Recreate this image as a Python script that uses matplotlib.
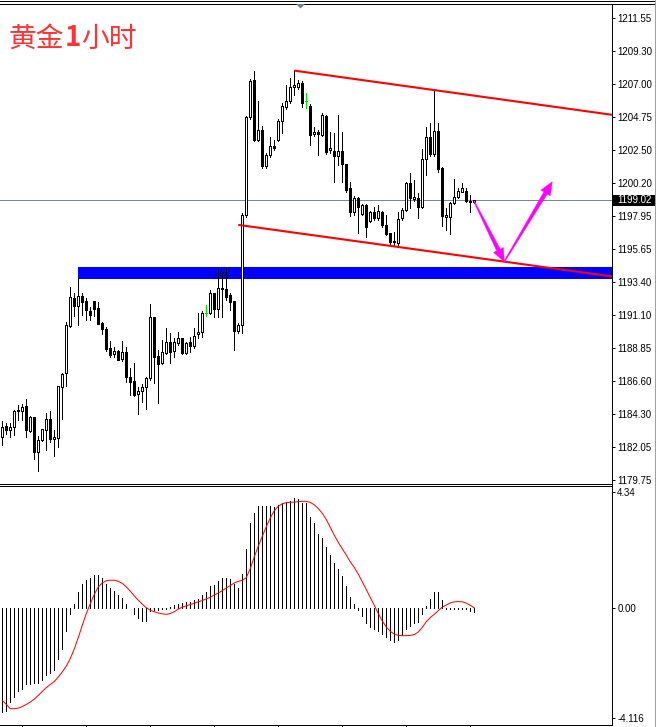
import numpy as np
import matplotlib
matplotlib.use("Agg")
import matplotlib.pyplot as plt
from matplotlib.patches import Rectangle, Polygon
from matplotlib.lines import Line2D
import matplotlib.transforms as mtransforms

# ---------------- data ----------------
opens = [1182.76, 1183.47, 1183.24, 1183.40, 1184.59, 1184.54, 1184.87, 1183.17, 1184.11, 1181.72,
         1182.50, 1183.24, 1183.95, 1182.57, 1182.69, 1186.15, 1187.11, 1190.39, 1192.30, 1191.77,
         1192.44, 1192.07, 1191.43, 1192.07, 1191.59, 1190.56, 1190.14, 1188.83, 1188.42, 1188.65,
         1188.10, 1188.58, 1186.84, 1186.56, 1185.67, 1185.88, 1186.15, 1186.77, 1190.97, 1188.31,
         1187.80, 1188.49, 1189.27, 1188.65, 1189.22, 1189.52, 1188.49, 1189.27, 1189.02, 1189.80,
         1189.94, 1191.30, 1191.24, 1192.62, 1191.54, 1192.96, 1192.90, 1192.50, 1192.09, 1190.05,
         1190.44, 1198.01, 1204.74, 1207.30, 1203.17, 1203.86, 1201.38, 1202.12, 1202.76, 1203.17,
         1204.50, 1205.46, 1205.86, 1206.82, 1206.80, 1207.12, 1205.86, 1205.52, 1203.59, 1203.75,
         1203.52, 1204.83, 1202.49, 1202.42, 1202.10, 1202.42, 1201.50, 1199.85, 1198.20, 1199.21,
         1198.08, 1198.70, 1197.60, 1198.24, 1197.79, 1198.24, 1197.33, 1196.75, 1196.22, 1196.06,
         1197.79, 1198.36, 1200.24, 1199.09, 1199.16, 1198.59, 1201.85, 1203.36, 1202.21, 1203.80,
         1201.22, 1197.90, 1197.90, 1198.82, 1199.23, 1199.62, 1199.69, 1199.00, 1198.88]
highs = [1183.83, 1183.70, 1183.70, 1184.59, 1184.93, 1185.00, 1185.35, 1184.18, 1184.11, 1182.80,
         1183.31, 1184.36, 1184.50, 1183.21, 1186.24, 1187.14, 1190.65, 1193.06, 1192.64, 1193.65,
         1192.62, 1192.28, 1191.66, 1192.12, 1192.00, 1190.67, 1190.28, 1189.36, 1188.95, 1188.72,
         1189.34, 1188.95, 1187.46, 1187.80, 1186.20, 1186.38, 1186.88, 1191.89, 1190.97, 1188.72,
         1189.41, 1190.21, 1189.87, 1189.52, 1189.94, 1189.57, 1189.29, 1189.64, 1190.21, 1191.24,
         1191.40, 1191.79, 1192.85, 1192.67, 1194.23, 1194.11, 1194.34, 1192.62, 1192.09, 1190.56,
         1198.15, 1204.80, 1207.40, 1207.92, 1205.86, 1204.14, 1202.28, 1203.40, 1203.17, 1204.60,
         1205.74, 1206.96, 1207.42, 1207.99, 1207.30, 1207.26, 1206.39, 1205.65, 1204.07, 1203.86,
         1205.01, 1204.90, 1203.75, 1203.63, 1204.90, 1203.75, 1201.55, 1200.31, 1199.30, 1199.25,
         1198.75, 1198.75, 1198.30, 1198.59, 1198.70, 1198.30, 1198.01, 1196.80, 1196.82, 1198.24,
         1198.52, 1200.31, 1200.88, 1200.42, 1199.50, 1202.53, 1204.09, 1204.32, 1206.55, 1204.32,
         1201.30, 1198.47, 1198.89, 1200.49, 1199.85, 1200.19, 1199.85, 1199.39, 1199.05]
lows = [1182.21, 1182.94, 1182.76, 1182.87, 1183.90, 1183.90, 1182.76, 1183.10, 1181.22, 1180.42,
        1182.43, 1181.84, 1182.41, 1181.43, 1182.07, 1183.97, 1186.27, 1190.28, 1191.08, 1190.44,
        1191.13, 1190.78, 1190.78, 1191.06, 1190.49, 1189.82, 1188.65, 1188.22, 1188.22, 1188.03,
        1187.99, 1186.52, 1185.60, 1185.58, 1184.34, 1185.16, 1184.66, 1186.68, 1186.43, 1185.05,
        1187.76, 1188.44, 1187.85, 1188.26, 1189.06, 1188.44, 1188.44, 1188.61, 1188.83, 1189.52,
        1189.64, 1191.08, 1191.17, 1191.01, 1191.01, 1191.01, 1192.16, 1191.47, 1188.72, 1189.87,
        1189.90, 1197.90, 1204.60, 1203.10, 1203.10, 1201.25, 1201.23, 1202.00, 1202.50, 1203.10,
        1203.63, 1205.29, 1205.74, 1206.27, 1206.70, 1205.47, 1205.36, 1202.83, 1203.45, 1202.14,
        1203.45, 1202.20, 1202.30, 1200.31, 1201.45, 1200.31, 1199.60, 1197.97, 1198.00, 1196.75,
        1198.00, 1196.48, 1197.55, 1197.70, 1197.70, 1197.21, 1196.64, 1196.02, 1195.90, 1195.95,
        1197.70, 1198.30, 1198.47, 1199.00, 1197.79, 1198.50, 1200.77, 1202.10, 1202.10, 1201.00,
        1197.28, 1196.98, 1196.68, 1198.80, 1199.20, 1199.60, 1198.90, 1198.24, 1198.85]
closes = [1183.40, 1183.24, 1183.40, 1184.50, 1184.50, 1184.77, 1183.24, 1184.11, 1181.72, 1182.50,
          1183.26, 1183.95, 1182.57, 1182.73, 1186.24, 1187.07, 1190.44, 1192.34, 1191.77, 1192.41,
          1192.05, 1191.47, 1191.15, 1191.56, 1190.51, 1190.14, 1188.81, 1188.40, 1188.65, 1188.03,
          1188.56, 1186.84, 1186.52, 1185.62, 1185.88, 1186.20, 1186.79, 1190.97, 1188.26, 1187.76,
          1188.56, 1189.27, 1188.61, 1189.27, 1189.52, 1188.49, 1189.18, 1188.99, 1189.71, 1189.94,
          1191.24, 1191.30, 1192.62, 1191.54, 1192.96, 1192.90, 1192.39, 1192.05, 1190.05, 1190.42,
          1198.01, 1204.74, 1207.24, 1203.17, 1203.86, 1201.38, 1202.14, 1202.76, 1202.64, 1204.50,
          1205.52, 1205.86, 1206.80, 1206.96, 1207.12, 1205.74, 1205.86, 1203.52, 1203.75, 1203.59,
          1204.90, 1202.37, 1202.65, 1202.10, 1202.42, 1201.50, 1199.73, 1198.20, 1199.21, 1198.59,
          1198.70, 1197.21, 1198.24, 1197.79, 1198.31, 1197.33, 1196.71, 1196.18, 1196.13, 1197.71,
          1198.36, 1200.24, 1199.16, 1199.23, 1198.59, 1201.85, 1203.36, 1202.21, 1203.80, 1201.16,
          1197.97, 1198.01, 1198.82, 1199.23, 1199.69, 1199.85, 1199.00, 1198.88, 1199.02]

macd_hist = [-3.91, -3.87, -3.53, -3.35, -3.12, -3.03, -2.87, -2.87, -2.82, -2.82,
             -2.69, -2.53, -2.44, -2.34, -1.93, -1.53, -0.86, -0.24, 0.16, 0.60,
             0.89, 1.04, 1.14, 1.23, 1.23, 1.14, 0.89, 0.76, 0.63, 0.48,
             0.39, 0.16, 0.0, -0.24, -0.38, -0.49, -0.49, -0.13, -0.09, -0.09,
             -0.05, -0.03, 0.04, 0.10, 0.16, 0.19, 0.21, 0.23, 0.29, 0.33,
             0.48, 0.58, 0.81, 0.85, 1.01, 1.13, 1.14, 1.08, 0.89, 0.76,
             1.29, 2.23, 3.20, 3.55, 3.82, 3.82, 3.82, 3.82, 3.80, 3.86,
             3.95, 3.97, 4.01, 4.11, 4.10, 3.92, 3.92, 3.40, 3.20, 2.77,
             2.64, 2.29, 1.98, 1.69, 1.45, 1.19, 0.81, 0.41, 0.14, -0.08,
             -0.29, -0.56, -0.71, -0.78, -0.86, -0.96, -1.09, -1.19, -1.27, -1.19,
             -1.03, -0.79, -0.68, -0.56, -0.53, -0.24, 0.09, 0.33, 0.59, 0.59,
             0.29, -0.03, -0.04, -0.04, -0.04, -0.05, -0.05, -0.11, -0.15]
macd_signal = [-3.47, -3.62, -3.78, -3.78, -3.76, -3.70, -3.62, -3.53, -3.42, -3.28,
               -3.13, -2.99, -2.87, -2.76, -2.59, -2.40, -2.18, -1.90, -1.53, -1.11,
               -0.65, -0.21, 0.16, 0.51, 0.79, 0.94, 1.02, 1.04, 1.04, 1.00,
               0.92, 0.79, 0.63, 0.45, 0.29, 0.14, 0.01, -0.09, -0.14, -0.19,
               -0.22, -0.24, -0.21, -0.14, -0.04, 0.03, 0.08, 0.13, 0.18, 0.23,
               0.28, 0.34, 0.40, 0.49, 0.56, 0.65, 0.75, 0.84, 0.94, 1.00,
               1.04, 1.14, 1.48, 1.92, 2.32, 2.69, 3.05, 3.38, 3.65, 3.82,
               3.91, 3.95, 3.97, 3.97, 3.99, 4.00, 4.00, 3.96, 3.87, 3.73,
               3.55, 3.32, 3.02, 2.73, 2.46, 2.22, 1.98, 1.73, 1.52, 1.27,
               0.98, 0.69, 0.39, 0.10, -0.21, -0.49, -0.71, -0.88, -0.98, -1.03,
               -1.04, -1.04, -1.03, -1.00, -0.90, -0.73, -0.51, -0.36, -0.24, -0.10,
               0.03, 0.11, 0.19, 0.23, 0.24, 0.23, 0.18, 0.10, 0.00]

price_ticks = [1211.55, 1209.30, 1207.00, 1204.75, 1202.50, 1200.20, 1197.95, 1195.65,
               1193.40, 1191.10, 1188.85, 1186.60, 1184.30, 1182.05, 1179.75]
macd_ticks = [4.34, 0.00, -4.116]
macd_tick_labels = ["4.34", "0.00", "-4.116"]
time_ticks = [5, 21, 37, 53, 69, 85, 101, 117]
last_price = 1199.02
zone_low, zone_high, zone_start = 1193.63, 1194.41, 19
upper_trend_x, upper_trend_y = [73, 152.4], [1207.95, 1204.91]
lower_trend_x, lower_trend_y = [59, 152.4], [1197.33, 1193.78]
forecast_x = [118, 125.5, 137.5]
forecast_y = [1198.93, 1194.80, 1200.30]
title_parts = ["黄金", "1", "小时"]

# ---------------- figure ----------------
W, H, DPI = 657, 727, 100
PX = 72.0 / DPI  # one pixel in points
plt.rcParams["font.family"] = ["Liberation Sans", "DejaVu Sans"]
fig = plt.figure(figsize=(W / DPI, H / DPI), dpi=DPI)
fig.patch.set_facecolor("white")

def fy(py):
    return 1 - py / H

def fx(px):
    return px / W

AX_R = 612.0
ax = fig.add_axes([0, fy(483.5), AX_R / W, (483.5 - 3.5) / H])
axm = fig.add_axes([0, fy(724.5), AX_R / W, (724.5 - 486.0) / H])

n = len(opens)
idx = np.arange(n)
o = np.array(opens); h = np.array(highs); l = np.array(lows); c = np.array(closes)
XL = (-0.575, 152.43)

for a in (ax, axm):
    a.set_xlim(*XL)
    a.set_facecolor("white")
    a.spines["left"].set_visible(False)
    for s in ("top", "right", "bottom"):
        a.spines[s].set_linewidth(PX)
        a.spines[s].set_color("black")
    a.yaxis.tick_right()
    a.tick_params(axis="y", direction="out", length=2.2, width=PX, pad=1.5,
                  labelsize=7, colors="black")

ax.set_ylim(1179.53, 1212.57)

# support zone
ax.add_patch(Rectangle((zone_start, zone_low), XL[1] - zone_start, zone_high - zone_low,
                       facecolor="#0000ff", edgecolor="none", zorder=1))
# current price line
ax.axhline(last_price, color="#778899", lw=PX, zorder=1.5)

# candles
up = c > o
dn = c < o
dj = c == o
ax.vlines(idx[~dj], l[~dj], h[~dj], color="black", lw=PX, zorder=3, antialiased=False)
ax.bar(idx[up], (c - o)[up], bottom=o[up], width=0.5, facecolor="white",
       edgecolor="black", linewidth=PX, zorder=4, antialiased=False)
ax.bar(idx[dn], (o - c)[dn], bottom=c[dn], width=0.5, facecolor="black",
       edgecolor="black", linewidth=PX, zorder=4, antialiased=False)
ax.vlines(idx[dj], l[dj], h[dj], color="#00dd00", lw=PX, zorder=4, antialiased=False)
ax.hlines(o[dj], idx[dj] - 0.3, idx[dj] + 0.3, color="#00dd00", lw=PX, zorder=4,
          antialiased=False)

# trend channel
def extend(xs, ys, x_end):
    k = (ys[1] - ys[0]) / (xs[1] - xs[0])
    return [xs[0], x_end], [ys[0], ys[0] + k * (x_end - xs[0])]

ux, uy = extend(upper_trend_x, upper_trend_y, XL[1])
lx, ly = extend(lower_trend_x, lower_trend_y, XL[1])
ax.plot(ux, uy, color="#ff0000", lw=1.5, zorder=5, solid_capstyle="butt")
ax.plot(lx, ly, color="#ff0000", lw=1.5, zorder=5, solid_capstyle="butt")

# tapered forecast arrows
def tapered_arrow(a, p0, p1, color, w0=0.5, w1=2.0, head_len=13.0, head_hw=5.5):
    T = a.transData
    A = T.transform(p0); B = T.transform(p1)
    d = B - A
    L = np.hypot(*d)
    u = d / L
    nv = np.array([-u[1], u[0]])
    base = B - u * head_len
    pts = [A + nv * w0, base + nv * w1, base + nv * head_hw, B,
           base - nv * head_hw, base - nv * w1, A - nv * w0]
    pd = T.inverted().transform(np.array(pts))
    a.add_patch(Polygon(pd, closed=True, facecolor=color, edgecolor=color, lw=0.3, zorder=7))

for k in range(len(forecast_x) - 1):
    tapered_arrow(ax, (forecast_x[k], forecast_y[k]), (forecast_x[k + 1], forecast_y[k + 1]),
                  "#ff00ff")

ax.set_xticks([])
ax.set_yticks(price_ticks)
ax.set_yticklabels(["%.2f" % v for v in price_ticks])

# last price box
bt = mtransforms.blended_transform_factory(ax.transAxes, ax.transData)
box_h = 11.0 / 14.53
ax.add_patch(Rectangle((1.0 + 1.0 / AX_R, last_price - box_h / 2), 41.5 / AX_R, box_h,
                       transform=bt, facecolor="black", edgecolor="none", clip_on=False,
                       zorder=10))
ax.text(1.0 + 5.5 / AX_R, last_price, "%.2f" % last_price, transform=bt, color="white",
        fontsize=7, va="center", ha="left", zorder=11, clip_on=False)

# title
red = "#ff3333"
cjk = ["Noto Sans CJK SC", "DejaVu Sans"]
t1 = fig.text(fx(9), fy(38.5), title_parts[0], fontsize=20, color=red, family=cjk, va="center")
t2 = ax.annotate(title_parts[1], xy=(1, 0.5), xycoords=t1, va="center", ha="left",
                 fontsize=20, color=red, family=cjk, fontweight="bold", annotation_clip=False)
t3 = ax.annotate(title_parts[2], xy=(1, 0.5), xycoords=t2, va="center", ha="left",
                 fontsize=20, color=red, family=cjk, annotation_clip=False)

# MACD pane
axm.set_ylim(-4.373, 4.576)
axm.vlines(idx, 0, macd_hist, color="black", lw=PX, zorder=2, antialiased=False)
axm.plot(idx, macd_signal, color="#ff0000", lw=PX, zorder=3)
axm.set_yticks(macd_ticks)
axm.set_yticklabels(macd_tick_labels)
axm.set_xticks(time_ticks)
axm.set_xticklabels([])
axm.tick_params(axis="x", direction="out", length=2.5, width=PX, colors="black")

# window decorations
fig.add_artist(Line2D([0, fx(654)], [fy(0.5), fy(0.5)], color="black", lw=PX))
fig.add_artist(Line2D([fx(AX_R), fx(654)], [fy(3.5), fy(3.5)], color="black", lw=PX))
fig.add_artist(Line2D([fx(654.5), fx(654.5)], [0, 1], color="#a0a0a0", lw=PX))
fig.add_artist(Line2D([fx(AX_R), fx(AX_R)], [fy(483.5), fy(486)], color="black", lw=PX))
fig.add_artist(Polygon([[fx(296), fy(4)], [fx(305), fy(4)], [fx(300.5), fy(8.5)]],
                       closed=True, transform=fig.transFigure, facecolor="#708090",
                       edgecolor="none"))

fig.savefig("out.png", dpi=DPI)
